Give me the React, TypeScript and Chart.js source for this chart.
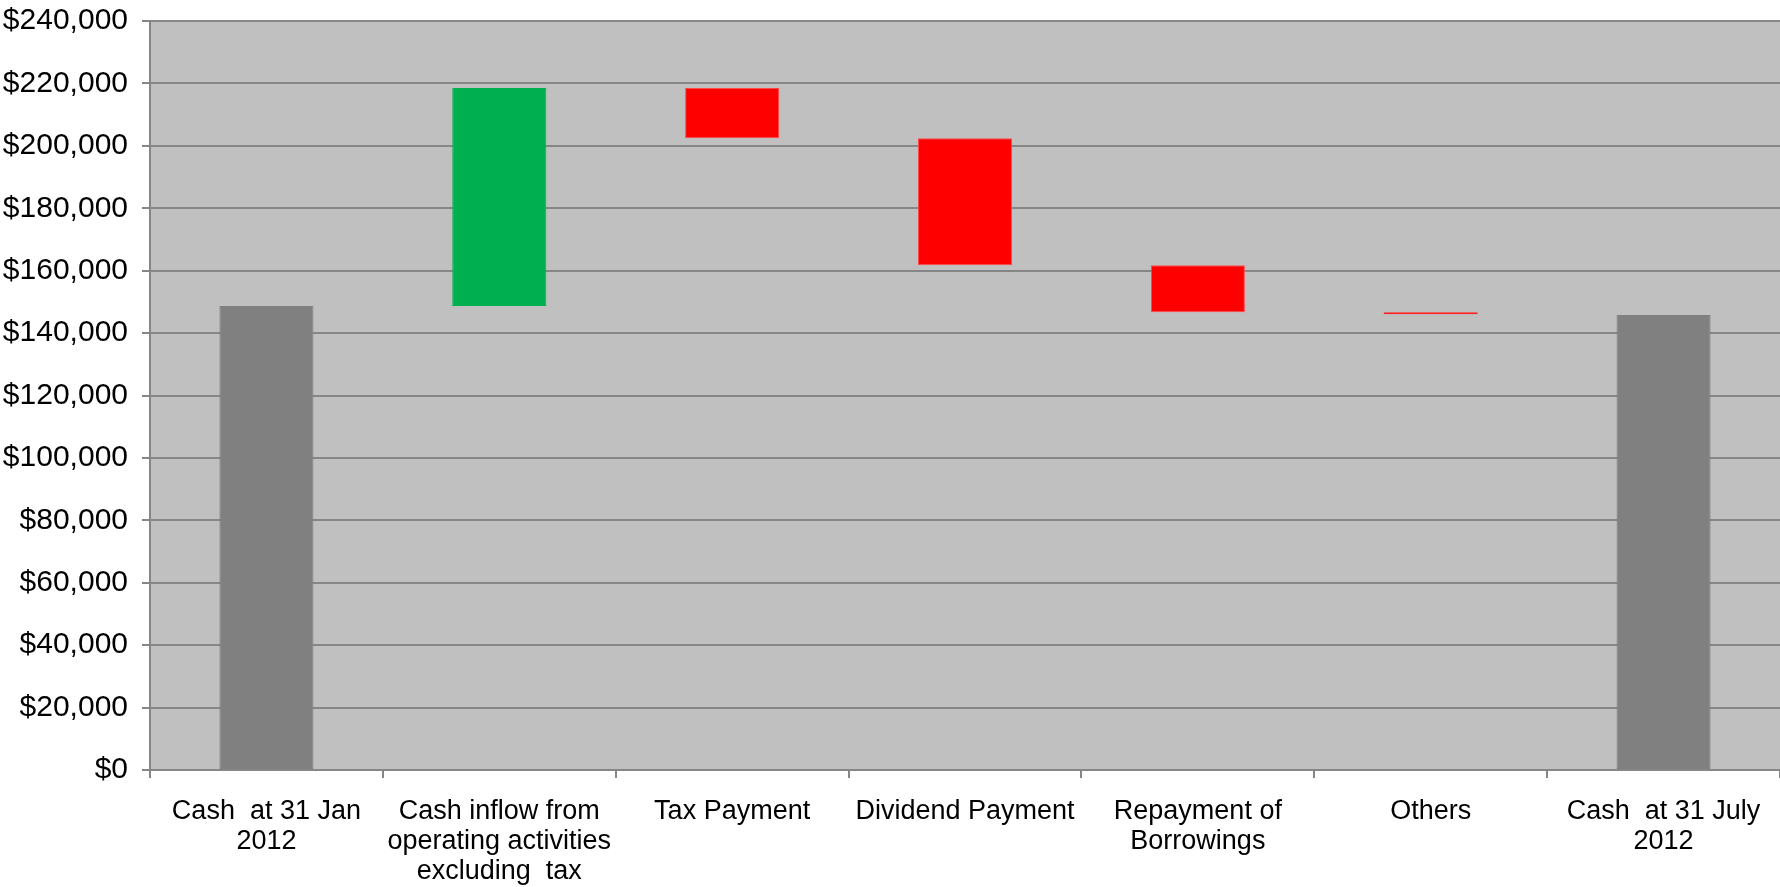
import React, { useEffect, useRef } from "react";
import { Chart, registerables } from "chart.js";

Chart.register(...registerables);

const categories: (string | string[])[] = [
  ["Cash  at 31 Jan", "2012"],
  ["Cash inflow from", "operating activities", "excluding  tax"],
  "Tax Payment",
  "Dividend Payment",
  ["Repayment of", "Borrowings"],
  "Others",
  ["Cash  at 31 July", "2012"],
];

const barLow = [0, 148700, 202400, 161700, 146700, 146000, 0];
const barHigh = [148700, 218500, 218500, 202400, 161700, 146700, 145800];
const barColors = ["#808080", "#00b050", "#ff0000", "#ff0000", "#ff0000", "#ff0000", "#808080"];
const borderColors = ["#808080", "#00b050", "#ff4a4a", "#ff4a4a", "#ff4a4a", "#ff2020", "#808080"];

const yMin = 0;
const yMax = 240000;
const yStep = 20000;

const FONT = "'Liberation Sans', Arial, sans-serif";
const GRID = "#868686";

const plotBg = {
  id: "plotBg",
  beforeDraw(chart: any) {
    const { ctx, chartArea } = chart;
    if (!chartArea) return;
    ctx.save();
    ctx.fillStyle = "#c0c0c0";
    ctx.fillRect(chartArea.left, chartArea.top, chartArea.right - chartArea.left, chartArea.bottom - chartArea.top);
    ctx.restore();
  },
};

export default function App() {
  const ref = useRef<HTMLCanvasElement | null>(null);
  useEffect(() => {
    document.body.style.margin = "0";
    const canvas = ref.current;
    if (!canvas) return;
    const chart = new Chart(canvas, {
      type: "bar",
      data: {
        labels: categories,
        datasets: [
          {
            data: barLow.map((lo, i) => [lo, barHigh[i]]) as any,
            backgroundColor: barColors,
            borderColor: borderColors,
            borderWidth: 1,
            borderSkipped: false,
            barPercentage: 0.404,
            categoryPercentage: 1,
          },
        ],
      },
      options: {
        animation: false,
        responsive: true,
        maintainAspectRatio: false,
        layout: { padding: { top: 21, left: 0, right: 0, bottom: 0 } },
        plugins: {
          legend: { display: false },
          tooltip: { enabled: false },
        },
        scales: {
          x: {
            offset: true,
            grid: {
              offset: true,
              drawOnChartArea: false,
              drawTicks: true,
              tickLength: 8,
              color: GRID,
              lineWidth: 2,
            },
            border: { display: true, color: GRID, width: 2 },
            ticks: {
              color: "#000",
              font: { family: FONT, size: 27, lineHeight: 1.1 },
              padding: 19,
              maxRotation: 0,
              minRotation: 0,
              autoSkip: false,
            },
            afterFit(scale: any) {
              scale.height = 117;
            },
          },
          y: {
            min: yMin,
            max: yMax,
            grid: {
              color: GRID,
              lineWidth: 2,
              drawTicks: true,
              tickLength: 8,
            },
            border: { display: true, color: GRID, width: 2 },
            ticks: {
              stepSize: yStep,
              color: "#000",
              font: { family: FONT, size: 30 },
              padding: 14,
              callback: (v: any) => "$" + Number(v).toLocaleString("en-US"),
            },
            afterFit(scale: any) {
              scale.width = 150;
              scale.paddingTop = 0;
              scale.paddingBottom = 0;
            },
          },
        },
      },
      plugins: [plotBg],
    });
    return () => chart.destroy();
  }, []);
  return (
    <div style={{ width: 1780, height: 887, position: "relative" }}>
      <canvas ref={ref} />
    </div>
  );
}
